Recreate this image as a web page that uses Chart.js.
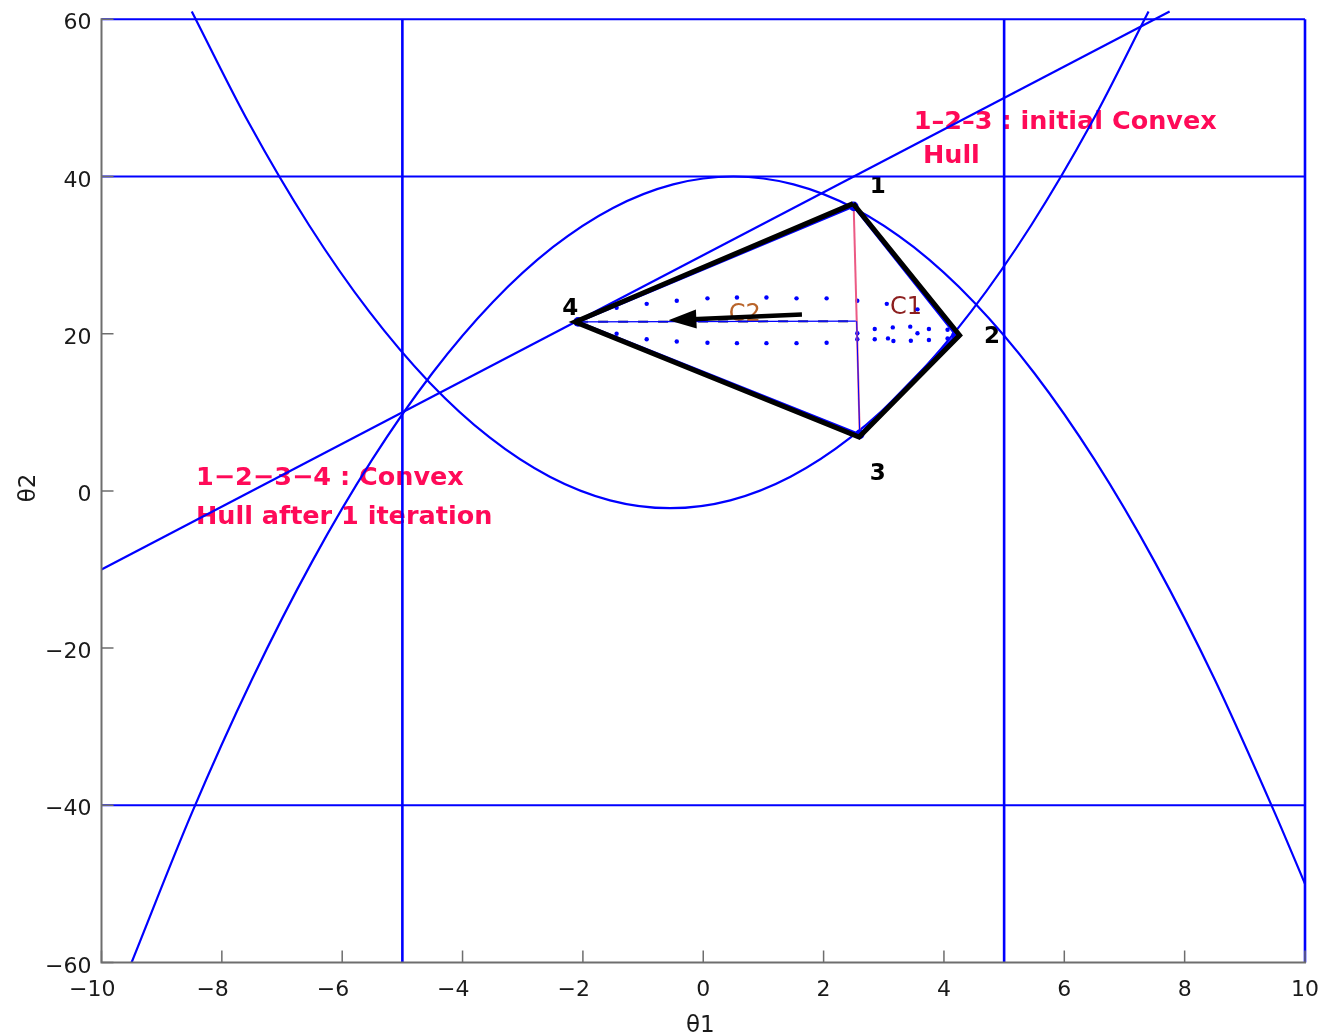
<!DOCTYPE html>
<html>
<head>
<meta charset="utf-8">
<script src="https://cdn.jsdelivr.net/npm/chart.js@4.4.1/dist/chart.umd.min.js"></script>
<style>
  html, body { margin: 0; padding: 0; background: #fff; }
  canvas { display: block; }
</style>
</head>
<body>
<canvas id="c" width="1322" height="1036"></canvas>
<script>
// ---- tick values -------------------------------------------------------
const xTicks = [-10, -8, -6, -4, -2, 0, 2, 4, 6, 8, 10];
const yTicks = [-60, -40, -20, 0, 20, 40, 60];

// ---- constraint curves (sampled) ---------------------------------------
// downward-opening boundary
const capX = [-9.5, -8.5, -7.5, -6.5, -5.5, -4.5, -3.5, -2.5, -1.5, -0.5, 0.5, 1.5, 2.5, 3.5, 4.5, 5.5, 6.5, 7.5, 8.5, 9.5, 10];
const capY = [-60, -41, -24, -9, 4, 15, 24, 31, 36, 39, 40, 39, 36, 31, 24, 15, 4, -9, -24, -41, -50];
// upward-opening boundary
const cupX = [-8.5, -7.55, -6.55, -5.55, -4.55, -3.55, -2.55, -1.55, -0.55, 0.45, 1.45, 2.45, 3.45, 4.45, 5.45, 6.45, 7.4];
const cupY = [61, 46.8, 33.8, 22.8, 13.8, 6.8, 1.8, -1.2, -2.2, -1.2, 1.8, 6.8, 13.8, 22.8, 33.8, 46.8, 61];
// straight boundary
const lineX = [-10, 7.75];
const lineY = [-10, 61];
// box bounds
const vBoundX = [-5, 5, 10];
const hBoundY = [-40, 40, 60];

// ---- hull vertices 1, 2, 3, 4 -------------------------------------------
const hullX = [2.5, 4.2, 2.6, -2.08];
const hullY = [36.2, 19.8, 7.2, 21.5];
// heavy outline of the hull after one iteration
const outlineX = [2.49, 4.26, 2.59, -2.13];
const outlineY = [36.55, 19.8, 6.85, 21.5];
// foot of the search direction on edge 1-3
const footX = [2.55];
const footY = [21.6];
// search direction arrow (tail, tip)
const arrowX = [1.64, -0.58];
const arrowY = [22.45, 21.7];

// ---- sample points inside the hull -------------------------------------
const dotsX = [-1.44, -0.94, -0.44, 0.07, 0.56, 1.05, 1.55, 2.05, 2.56, 3.05, 3.56,
               -1.44, -0.94, -0.44, 0.07, 0.56, 1.05, 1.55, 2.05, 2.56,
               2.56, 2.85, 2.85, 3.15, 3.07, 3.16, 3.44, 3.56, 3.45, 3.75, 3.75, 4.06, 4.06];
const dotsY = [23.3, 23.8, 24.2, 24.5, 24.6, 24.6, 24.5, 24.5, 24.2, 23.8, 23.1,
               20.0, 19.3, 19.0, 18.85, 18.8, 18.8, 18.8, 18.85, 19.3,
               20.05, 20.6, 19.3, 20.8, 19.4, 19.07, 20.9, 20.05, 19.1, 20.6, 19.2, 20.5, 19.4];

// ---- annotation text ----------------------------------------------------
const RED = '#ff0a58';
const notes = [
  { text: '1', x: 2.90, y: 37.9, font: 'bold 23px "DejaVu Sans"', color: '#000', align: 'center' },
  { text: '2', x: 4.80, y: 18.8, font: 'bold 23px "DejaVu Sans"', color: '#000', align: 'center' },
  { text: '3', x: 2.90, y: 1.45, font: 'bold 23px "DejaVu Sans"', color: '#000', align: 'center' },
  { text: '4', x: -2.21, y: 22.44, font: 'bold 23px "DejaVu Sans"', color: '#000', align: 'center' },
  { text: 'C1', x: 3.37, y: 22.5, font: '24px "DejaVu Sans"', color: '#8c1e1e', align: 'center' },
  { text: 'C2', x: 0.69, y: 21.6, font: '24px "DejaVu Sans"', color: '#b9642a', align: 'center' },
  { text: '1\u20132\u20133 : initial Convex', x: 3.50, y: 46.04, font: 'bold 25.5px "DejaVu Sans"', color: RED, align: 'left' },
  { text: 'Hull', x: 3.65, y: 41.76, font: 'bold 25.5px "DejaVu Sans"', color: RED, align: 'left' },
  { text: '1\u22122\u22123\u22124 : Convex', x: -8.43, y: 0.75, font: 'bold 25.5px "DejaVu Sans"', color: RED, align: 'left' },
  { text: 'Hull after 1 iteration', x: -8.43, y: -4.21, font: 'bold 25.5px "DejaVu Sans"', color: RED, align: 'left' }
];

const BLUE = '#0000ff';
const AXIS = '#6e6e6e';
const pts = (xs, ys) => xs.map((x, i) => ({ x, y: ys[i] }));
const closed = a => a.concat([a[0]]);
const seg = (x0, y0, x1, y1) => [{ x: x0, y: y0 }, { x: x1, y: y1 }];

const datasets = [];
// heavy black outline (on top)
datasets.push({ data: pts(closed(outlineX), closed(outlineY)), showLine: true, borderColor: '#000', borderWidth: 5, borderJoinStyle: 'miter', pointRadius: 0, clip: false });
// hull vertices
datasets.push({ data: pts(hullX, hullY), showLine: false, pointRadius: 4.8, pointBackgroundColor: BLUE, pointBorderWidth: 0, clip: false });
// thin blue hull edges
datasets.push({ data: pts(closed(hullX), closed(hullY)), showLine: true, borderColor: BLUE, borderWidth: 2.5, pointRadius: 0, clip: false });
// split line 1-3
datasets.push({ data: seg(footX[0], footY[0], hullX[2], hullY[2]), showLine: true, borderColor: BLUE, borderWidth: 1, pointRadius: 0, clip: false });
datasets.push({ data: seg(hullX[0], hullY[0], hullX[2], hullY[2]), showLine: true, borderColor: '#ec5a84', borderWidth: 2, pointRadius: 0, clip: false });
// search direction from vertex 4 to the foot
datasets.push({ data: seg(hullX[3], hullY[3], footX[0], footY[0]), showLine: true, borderColor: BLUE, borderWidth: 1.2, pointRadius: 0, clip: false });
datasets.push({ data: seg(hullX[3], hullY[3], footX[0], footY[0]), showLine: true, borderColor: 'rgba(40,40,120,0.75)', borderWidth: 2.5, borderDash: [10, 10], pointRadius: 0, clip: false });
// interior samples
datasets.push({ data: pts(dotsX, dotsY), showLine: false, pointRadius: 2.2, pointBackgroundColor: BLUE, pointBorderWidth: 0, clip: false });
// boundaries
datasets.push({ data: pts(capX, capY), showLine: true, borderColor: BLUE, borderWidth: 2.2, cubicInterpolationMode: 'monotone', pointRadius: 0, clip: false });
datasets.push({ data: pts(cupX, cupY), showLine: true, borderColor: BLUE, borderWidth: 2.2, cubicInterpolationMode: 'monotone', pointRadius: 0, clip: false });
datasets.push({ data: pts(lineX, lineY), showLine: true, borderColor: BLUE, borderWidth: 2.2, pointRadius: 0, clip: false });
vBoundX.forEach(v => datasets.push({ data: seg(v, -60, v, 60), showLine: true, borderColor: BLUE, borderWidth: 2.6, pointRadius: 0, clip: false }));
hBoundY.forEach(v => datasets.push({ data: seg(-10, v, 10, v), showLine: true, borderColor: BLUE, borderWidth: 2, pointRadius: 0, clip: false }));

const fmt = v => (v < 0 ? '\u2212' + Math.abs(v) : String(v));

// text placed under the data lines
const notesLayer = {
  id: 'notesLayer',
  beforeDatasetsDraw(chart) {
    const { ctx, scales: { x, y } } = chart;
    ctx.save();
    ctx.textBaseline = 'alphabetic';
    notes.forEach(n => {
      ctx.font = n.font;
      ctx.fillStyle = n.color;
      ctx.textAlign = n.align;
      ctx.fillText(n.text, x.getPixelForValue(n.x), y.getPixelForValue(n.y));
    });
    ctx.restore();
  }
};

// arrow along the search direction
const arrowLayer = {
  id: 'arrowLayer',
  afterDatasetsDraw(chart) {
    const { ctx, scales: { x, y } } = chart;
    const x0 = x.getPixelForValue(arrowX[0]), y0 = y.getPixelForValue(arrowY[0]);
    const x1 = x.getPixelForValue(arrowX[1]), y1 = y.getPixelForValue(arrowY[1]);
    const ang = Math.atan2(y1 - y0, x1 - x0);
    const headLen = 28, headHalf = 9.5;
    const bx = x1 - Math.cos(ang) * headLen, by = y1 - Math.sin(ang) * headLen;
    ctx.save();
    ctx.strokeStyle = '#000';
    ctx.fillStyle = '#000';
    ctx.lineWidth = 4.5;
    ctx.beginPath();
    ctx.moveTo(x0, y0);
    ctx.lineTo(bx + Math.cos(ang) * 4, by + Math.sin(ang) * 4);
    ctx.stroke();
    ctx.beginPath();
    ctx.moveTo(x1, y1);
    ctx.lineTo(bx - Math.sin(ang) * headHalf, by + Math.cos(ang) * headHalf);
    ctx.lineTo(bx + Math.sin(ang) * headHalf, by - Math.cos(ang) * headHalf);
    ctx.closePath();
    ctx.fill();
    ctx.restore();
  }
};

// axis lines, inward ticks, tick labels and axis titles
const axesLayer = {
  id: 'axesLayer',
  afterDatasetsDraw(chart) {
    const { ctx, chartArea: a, scales: { x, y } } = chart;
    ctx.save();
    ctx.strokeStyle = AXIS;
    ctx.lineWidth = 2;
    ctx.beginPath();
    ctx.moveTo(a.left, a.top - 1);
    ctx.lineTo(a.left, a.bottom);
    ctx.lineTo(a.right + 1, a.bottom);
    ctx.stroke();
    ctx.lineWidth = 1.5;
    ctx.beginPath();
    xTicks.forEach(v => { const p = x.getPixelForValue(v); ctx.moveTo(p, a.bottom); ctx.lineTo(p, a.bottom - 12); });
    yTicks.forEach(v => { const p = y.getPixelForValue(v); ctx.moveTo(a.left, p); ctx.lineTo(a.left + 12, p); });
    ctx.stroke();

    ctx.fillStyle = '#1a1a1a';
    ctx.font = '22px "DejaVu Sans"';
    ctx.textBaseline = 'alphabetic';
    // x labels: the digits are centred on the tick, a minus sign hangs left
    xTicks.forEach(v => {
      const p = x.getPixelForValue(v);
      const digits = String(Math.abs(v));
      const w = ctx.measureText(digits).width;
      ctx.textAlign = 'left';
      ctx.fillText(fmt(v), p - w / 2 - (v < 0 ? ctx.measureText('\u2212').width : 0), a.bottom + 33);
    });
    ctx.textAlign = 'right';
    yTicks.forEach(v => {
      ctx.fillText(fmt(v), a.left - 10, y.getPixelForValue(v) + 10);
    });

    ctx.font = '23px "DejaVu Sans"';
    ctx.textAlign = 'center';
    ctx.fillText('\u03b81', (a.left + a.right) / 2 - 3, 1032);
    ctx.translate(35, (a.top + a.bottom) / 2 - 3);
    ctx.rotate(-Math.PI / 2);
    ctx.fillText('\u03b82', 0, 0);
    ctx.restore();
  }
};

new Chart(document.getElementById('c'), {
  type: 'scatter',
  data: { datasets },
  options: {
    responsive: false,
    animation: false,
    devicePixelRatio: 1,
    layout: { padding: { top: 19.3, right: 17, left: 0, bottom: 0 } },
    plugins: { legend: { display: false }, tooltip: { enabled: false } },
    elements: { point: { radius: 0, hoverRadius: 0 }, line: { tension: 0 } },
    scales: {
      x: {
        type: 'linear', min: -10, max: 10,
        grid: { display: false, drawTicks: false },
        border: { display: false },
        ticks: { display: false },
        afterFit: s => { s.height = 73.5; }
      },
      y: {
        type: 'linear', min: -60, max: 60,
        grid: { display: false, drawTicks: false },
        border: { display: false },
        ticks: { display: false },
        afterFit: s => { s.width = 101.5; }
      }
    }
  },
  plugins: [notesLayer, arrowLayer, axesLayer]
});
</script>
</body>
</html>
